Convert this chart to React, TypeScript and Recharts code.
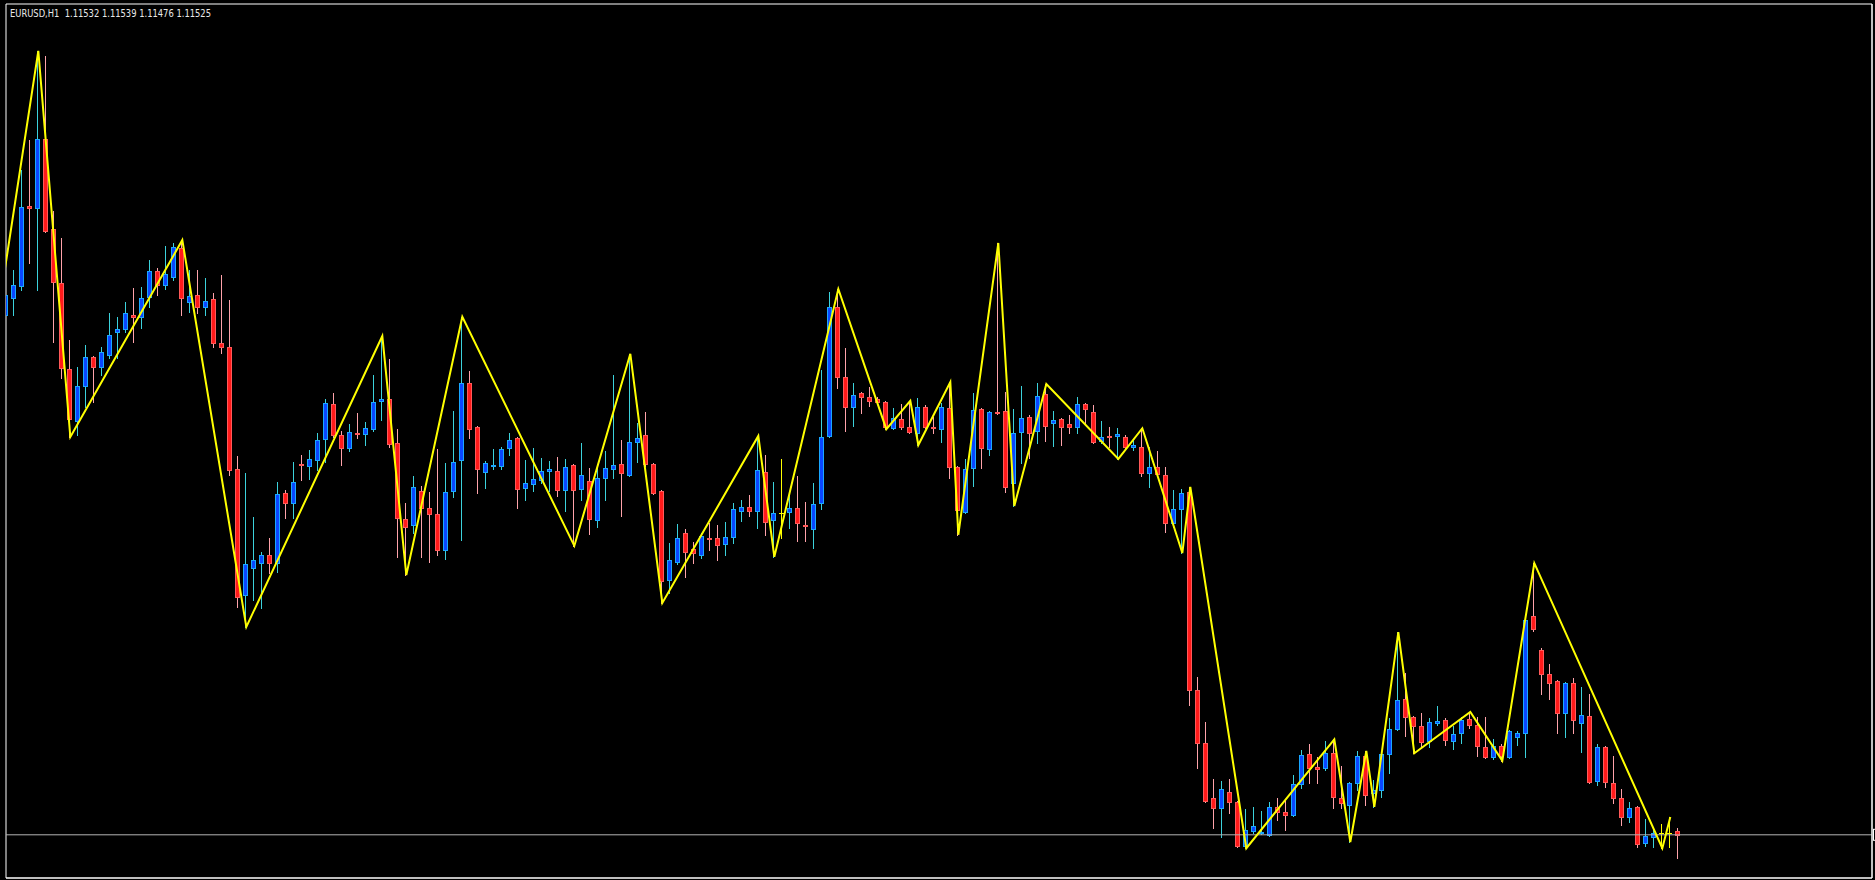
import React from "react";
import { Bar, ComposedChart, Line, ReferenceArea, ReferenceLine, XAxis, YAxis } from "recharts";

// EURUSD H1, 210 bars (oldest first)
const opens = [
  1.12608, 1.12643, 1.12668, 1.12835, 1.12831, 1.12975, 1.12787, 1.12675, 1.12495, 1.12387,
  1.12460, 1.12520, 1.12500, 1.12525, 1.12572, 1.12579, 1.12608, 1.12604, 1.12645, 1.12700,
  1.12670, 1.12687, 1.12747, 1.12635, 1.12650, 1.12625, 1.12641, 1.12550, 1.12541, 1.12287,
  1.12025, 1.12081, 1.12091, 1.12108, 1.12091, 1.12237, 1.12216, 1.12297, 1.12293, 1.12306,
  1.12350, 1.12422, 1.12358, 1.12331, 1.12362, 1.12360, 1.12370, 1.12429, 1.12433, 1.12341,
  1.12183, 1.12170, 1.12241, 1.12206, 1.12193, 1.12118, 1.12241, 1.12306, 1.12466, 1.12375,
  1.12281, 1.12293, 1.12293, 1.12331, 1.12352, 1.12247, 1.12256, 1.12264, 1.12283, 1.12283,
  1.12243, 1.12295, 1.12245, 1.12262, 1.12181, 1.12268, 1.12287, 1.12297, 1.12275, 1.12343,
  1.12358, 1.12297, 1.12241, 1.12056, 1.12093, 1.12154, 1.12120, 1.12108, 1.12143, 1.12143,
  1.12131, 1.12145, 1.12200, 1.12208, 1.12200, 1.12281, 1.12181, 1.12195, 1.12197, 1.12206,
  1.12170, 1.12162, 1.12216, 1.12356, 1.12625, 1.12479, 1.12416, 1.12445, 1.12437, 1.12433,
  1.12427, 1.12372, 1.12391, 1.12375, 1.12362, 1.12416, 1.12375, 1.12370, 1.12414, 1.12291,
  1.12197, 1.12289, 1.12412, 1.12329, 1.12406, 1.12408, 1.12258, 1.12364, 1.12395, 1.12366,
  1.12443, 1.12383, 1.12391, 1.12381, 1.12375, 1.12422, 1.12406, 1.12345, 1.12356, 1.12356,
  1.12354, 1.12333, 1.12333, 1.12279, 1.12291, 1.12275, 1.12175, 1.12204, 1.12239, 1.11827,
  1.11716, 1.11602, 1.11581, 1.11614, 1.11593, 1.11502, 1.11533, 1.11529, 1.11525, 1.11583,
  1.11572, 1.11566, 1.11631, 1.11693, 1.11666, 1.11664, 1.11695, 1.11602, 1.11587, 1.11633,
  1.11689, 1.11612, 1.11618, 1.11693, 1.11745, 1.11808, 1.11770, 1.11752, 1.11720, 1.11758,
  1.11764, 1.11720, 1.11737, 1.11766, 1.11754, 1.11708, 1.11687, 1.11710, 1.11687, 1.11729,
  1.11737, 1.11981, 1.11910, 1.11860, 1.11845, 1.11779, 1.11841, 1.11758, 1.11772, 1.11637,
  1.11708, 1.11633, 1.11602, 1.11562, 1.11583, 1.11508, 1.11520, 1.11529, 1.11529, 1.11532,
];

const highs = [
  1.12702, 1.12702, 1.12910, 1.12972, 1.13158, 1.13147, 1.12825, 1.12768, 1.12556, 1.12500,
  1.12545, 1.12522, 1.12541, 1.12612, 1.12604, 1.12635, 1.12664, 1.12666, 1.12722, 1.12706,
  1.12752, 1.12758, 1.12764, 1.12702, 1.12702, 1.12685, 1.12654, 1.12691, 1.12639, 1.12314,
  1.12279, 1.12187, 1.12114, 1.12143, 1.12260, 1.12243, 1.12302, 1.12316, 1.12327, 1.12362,
  1.12433, 1.12445, 1.12366, 1.12381, 1.12404, 1.12385, 1.12483, 1.12564, 1.12516, 1.12370,
  1.12216, 1.12272, 1.12252, 1.12239, 1.12329, 1.12300, 1.12408, 1.12604, 1.12491, 1.12377,
  1.12304, 1.12329, 1.12333, 1.12362, 1.12354, 1.12306, 1.12331, 1.12310, 1.12304, 1.12312,
  1.12308, 1.12297, 1.12341, 1.12289, 1.12291, 1.12325, 1.12483, 1.12347, 1.12527, 1.12383,
  1.12406, 1.12300, 1.12243, 1.12133, 1.12172, 1.12162, 1.12135, 1.12154, 1.12175, 1.12170,
  1.12177, 1.12216, 1.12222, 1.12233, 1.12356, 1.12316, 1.12260, 1.12308, 1.12237, 1.12272,
  1.12218, 1.12258, 1.12493, 1.12656, 1.12662, 1.12539, 1.12466, 1.12447, 1.12458, 1.12437,
  1.12429, 1.12414, 1.12422, 1.12429, 1.12435, 1.12420, 1.12395, 1.12425, 1.12468, 1.12293,
  1.12308, 1.12445, 1.12414, 1.12408, 1.12758, 1.12447, 1.12412, 1.12460, 1.12400, 1.12466,
  1.12464, 1.12408, 1.12393, 1.12400, 1.12437, 1.12425, 1.12420, 1.12387, 1.12375, 1.12372,
  1.12358, 1.12347, 1.12372, 1.12333, 1.12325, 1.12291, 1.12243, 1.12245, 1.12250, 1.11854,
  1.11760, 1.11641, 1.11637, 1.11641, 1.11595, 1.11579, 1.11583, 1.11575, 1.11593, 1.11602,
  1.11597, 1.11650, 1.11702, 1.11714, 1.11687, 1.11720, 1.11724, 1.11668, 1.11635, 1.11700,
  1.11700, 1.11639, 1.11695, 1.11768, 1.11947, 1.11862, 1.11772, 1.11779, 1.11768, 1.11793,
  1.11768, 1.11752, 1.11770, 1.11781, 1.11770, 1.11770, 1.11725, 1.11714, 1.11743, 1.11741,
  1.11977, 1.12091, 1.11914, 1.11881, 1.11848, 1.11843, 1.11852, 1.11833, 1.11818, 1.11714,
  1.11710, 1.11689, 1.11620, 1.11593, 1.11585, 1.11558, 1.11535, 1.11548, 1.11562, 1.11539,
];

const lows = [
  1.12591, 1.12608, 1.12660, 1.12716, 1.12660, 1.12781, 1.12552, 1.12477, 1.12354, 1.12358,
  1.12416, 1.12427, 1.12483, 1.12518, 1.12518, 1.12572, 1.12552, 1.12581, 1.12625, 1.12650,
  1.12662, 1.12681, 1.12608, 1.12614, 1.12612, 1.12608, 1.12541, 1.12529, 1.12275, 1.12000,
  1.11958, 1.12014, 1.11997, 1.12070, 1.12072, 1.12185, 1.12185, 1.12264, 1.12266, 1.12285,
  1.12302, 1.12354, 1.12295, 1.12325, 1.12352, 1.12337, 1.12366, 1.12389, 1.12333, 1.12104,
  1.12066, 1.12154, 1.12104, 1.12093, 1.12108, 1.12100, 1.12229, 1.12139, 1.12352, 1.12237,
  1.12247, 1.12287, 1.12287, 1.12316, 1.12206, 1.12222, 1.12241, 1.12258, 1.12241, 1.12231,
  1.12200, 1.12127, 1.12222, 1.12152, 1.12166, 1.12222, 1.12268, 1.12189, 1.12272, 1.12302,
  1.12293, 1.12235, 1.12008, 1.12029, 1.12090, 1.12062, 1.12091, 1.12102, 1.12118, 1.12097,
  1.12108, 1.12133, 1.12179, 1.12189, 1.12164, 1.12150, 1.12104, 1.12143, 1.12164, 1.12137,
  1.12137, 1.12122, 1.12204, 1.12354, 1.12456, 1.12366, 1.12377, 1.12404, 1.12418, 1.12425,
  1.12370, 1.12370, 1.12370, 1.12362, 1.12337, 1.12372, 1.12362, 1.12343, 1.12268, 1.12150,
  1.12195, 1.12252, 1.12289, 1.12316, 1.12402, 1.12239, 1.12210, 1.12300, 1.12310, 1.12341,
  1.12345, 1.12335, 1.12337, 1.12362, 1.12362, 1.12381, 1.12341, 1.12341, 1.12333, 1.12308,
  1.12331, 1.12327, 1.12272, 1.12250, 1.12272, 1.12156, 1.12166, 1.12112, 1.11795, 1.11664,
  1.11593, 1.11539, 1.11520, 1.11570, 1.11500, 1.11497, 1.11529, 1.11527, 1.11522, 1.11556,
  1.11535, 1.11564, 1.11622, 1.11633, 1.11633, 1.11660, 1.11581, 1.11581, 1.11510, 1.11618,
  1.11587, 1.11583, 1.11604, 1.11654, 1.11743, 1.11731, 1.11695, 1.11708, 1.11708, 1.11754,
  1.11712, 1.11704, 1.11716, 1.11747, 1.11689, 1.11685, 1.11683, 1.11679, 1.11685, 1.11712,
  1.11687, 1.11950, 1.11818, 1.11808, 1.11737, 1.11729, 1.11737, 1.11698, 1.11633, 1.11629,
  1.11625, 1.11591, 1.11545, 1.11552, 1.11500, 1.11502, 1.11500, 1.11497, 1.11500, 1.11476,
];

const closes = [
  1.12650, 1.12670, 1.12833, 1.12831, 1.12975, 1.12783, 1.12677, 1.12497, 1.12391, 1.12460,
  1.12520, 1.12500, 1.12531, 1.12566, 1.12579, 1.12612, 1.12604, 1.12643, 1.12700, 1.12670,
  1.12693, 1.12750, 1.12643, 1.12647, 1.12625, 1.12637, 1.12550, 1.12541, 1.12285, 1.12020,
  1.12089, 1.12097, 1.12108, 1.12091, 1.12235, 1.12216, 1.12260, 1.12295, 1.12308, 1.12347,
  1.12425, 1.12358, 1.12331, 1.12364, 1.12360, 1.12372, 1.12427, 1.12433, 1.12339, 1.12185,
  1.12166, 1.12250, 1.12206, 1.12193, 1.12118, 1.12239, 1.12302, 1.12466, 1.12370, 1.12287,
  1.12300, 1.12295, 1.12329, 1.12347, 1.12245, 1.12258, 1.12266, 1.12283, 1.12287, 1.12243,
  1.12291, 1.12243, 1.12275, 1.12183, 1.12268, 1.12289, 1.12295, 1.12279, 1.12343, 1.12352,
  1.12297, 1.12237, 1.12054, 1.12097, 1.12143, 1.12114, 1.12112, 1.12147, 1.12141, 1.12129,
  1.12145, 1.12204, 1.12208, 1.12200, 1.12285, 1.12177, 1.12195, 1.12195, 1.12206, 1.12175,
  1.12168, 1.12214, 1.12354, 1.12625, 1.12479, 1.12416, 1.12441, 1.12437, 1.12429, 1.12427,
  1.12375, 1.12393, 1.12375, 1.12364, 1.12416, 1.12375, 1.12372, 1.12416, 1.12291, 1.12202,
  1.12287, 1.12410, 1.12331, 1.12406, 1.12404, 1.12250, 1.12362, 1.12393, 1.12362, 1.12439,
  1.12377, 1.12389, 1.12375, 1.12375, 1.12422, 1.12412, 1.12343, 1.12354, 1.12354, 1.12360,
  1.12333, 1.12337, 1.12279, 1.12291, 1.12277, 1.12175, 1.12204, 1.12237, 1.11827, 1.11716,
  1.11595, 1.11581, 1.11620, 1.11593, 1.11502, 1.11535, 1.11543, 1.11531, 1.11583, 1.11572,
  1.11566, 1.11631, 1.11691, 1.11664, 1.11662, 1.11695, 1.11604, 1.11591, 1.11633, 1.11689,
  1.11608, 1.11618, 1.11693, 1.11745, 1.11806, 1.11770, 1.11752, 1.11718, 1.11760, 1.11762,
  1.11722, 1.11735, 1.11764, 1.11754, 1.11710, 1.11687, 1.11710, 1.11689, 1.11741, 1.11737,
  1.11972, 1.11954, 1.11860, 1.11841, 1.11779, 1.11841, 1.11764, 1.11775, 1.11635, 1.11708,
  1.11635, 1.11602, 1.11562, 1.11581, 1.11506, 1.11522, 1.11529, 1.11529, 1.11529, 1.11525,
];

// ZigZag pivots: bar index and price (first one lies left of the window)
const zigzagBars = [
  -1, 4, 8, 22, 30, 47, 50, 57, 71, 78, 82, 94, 96, 104, 110, 113, 114, 118, 119,
  124, 126, 130, 139, 142, 147, 148, 155, 166, 168, 170, 171, 174, 176, 183, 187, 191, 207, 208,
];
const zigzagPrices = [
  1.12614, 1.13158, 1.12354, 1.12764, 1.11958, 1.12564, 1.12066, 1.12604, 1.12127, 1.12527,
  1.12008, 1.12356, 1.12104, 1.12662, 1.12370, 1.12429, 1.12337, 1.12468, 1.12150, 1.12758,
  1.12210, 1.12464, 1.12308, 1.12372, 1.12112, 1.12250, 1.11497, 1.11724, 1.11510, 1.11700,
  1.11583, 1.11947, 1.11695, 1.11781, 1.11679, 1.12091, 1.11497, 1.11562,
];

// price scale ticks (labels are cut off at the window edge) and time ticks every 8 bars
const priceTicks = [
  1.1144, 1.1151, 1.1158, 1.1165, 1.1172, 1.1179, 1.1186, 1.1193, 1.12, 1.1207, 1.1214,
  1.1221, 1.1228, 1.1235, 1.1242, 1.1249, 1.1256, 1.1263, 1.127, 1.1277, 1.1284, 1.1291,
  1.1298, 1.1305, 1.1312, 1.1319,
];
const timeTicks = [
  0, 8, 16, 24, 32, 40, 48, 56, 64, 72, 80, 88, 96, 104, 112, 120, 128, 136, 144, 152,
  160, 168, 176, 184, 192, 200, 208, 216, 224, 232,
];

const symbol = "EURUSD,H1";
const xDomain: [number, number] = [-0.04, 233.21];
const yDomain: [number, number] = [1.11435, 1.132558];

const BULL_BODY = "#0A46FF";
const BULL_EDGE = "#1AA7FF";
const BULL_WICK = "#3CD2DC";
const BEAR_BODY = "#FF1A1A";
const BEAR_EDGE = "#FF5A5A";
const BEAR_WICK = "#FFA3AA";
const DOJI = "#FFFF00";

const bars = opens.map((o, i) => ({
  i,
  open: o,
  high: highs[i],
  low: lows[i],
  close: closes[i],
  range: [lows[i], highs[i]],
}));

const zigzag = zigzagBars.map((b, k) => ({ i: b, zz: zigzagPrices[k] }));

const last = bars[bars.length - 1];
const header = `${symbol}  ${[last.open, last.high, last.low, last.close].map((v) => v.toFixed(5)).join(" ")}`;

function Candle(props: any) {
  const { x, y, width, height, payload } = props;
  if (!payload || !isFinite(y) || !isFinite(height)) return null;
  const top = Math.min(y, y + height);
  const h = Math.abs(height);
  const { open, close, high, low } = payload;
  const k = h / (high - low);
  const py = (v: number) => Math.round(top + (high - v) * k);
  const c = Math.floor(x + width / 2);
  const bull = close > open;
  const doji = close === open;
  const wick = doji ? DOJI : bull ? BULL_WICK : BEAR_WICK;
  const edge = doji ? DOJI : bull ? BULL_EDGE : BEAR_EDGE;
  const yO = py(open);
  const yC = py(close);
  const bTop = Math.min(yO, yC);
  const bBot = Math.max(yO, yC);
  return (
    <g>
      <line x1={c + 0.5} x2={c + 0.5} y1={py(high)} y2={py(low) + 1} stroke={wick} strokeWidth={1} />
      {doji ? (
        <line x1={c - 2} x2={c + 3} y1={bTop + 0.5} y2={bTop + 0.5} stroke={edge} strokeWidth={1} />
      ) : (
        <rect
          x={c - 1.5}
          y={bTop + 0.5}
          width={4}
          height={Math.max(bBot - bTop, 1)}
          fill={bull ? BULL_BODY : BEAR_BODY}
          stroke={edge}
          strokeWidth={1}
        />
      )}
    </g>
  );
}

function PriceBox(props: any) {
  const vb = props.viewBox;
  if (!vb) return null;
  return <rect x={vb.x + vb.width + 1.5} y={vb.y - 5.5} width={4} height={11} fill="#000" stroke="#fff" />;
}

export default function App() {
  return (
    <div style={{ position: "fixed", left: 0, top: 0, width: 1875, height: 880, background: "#000" }}>
      <ComposedChart
        width={1875}
        height={880}
        data={bars}
        margin={{ top: 4, right: 0, bottom: 0, left: 6 }}
      >
        <XAxis
          dataKey="i"
          type="number"
          domain={xDomain}
          allowDataOverflow
          ticks={timeTicks}
          tick={false}
          tickSize={3}
          height={2}
          axisLine={{ stroke: "#fff" }}
          tickLine={{ stroke: "#fff" }}
        />
        <YAxis
          orientation="right"
          type="number"
          domain={yDomain}
          allowDataOverflow
          ticks={priceTicks}
          tick={false}
          tickSize={3}
          width={3}
          axisLine={{ stroke: "#fff" }}
          tickLine={{ stroke: "#fff" }}
        />
        <ReferenceLine y={last.close} stroke="#B4B4B4" strokeWidth={1} label={<PriceBox />} />
        <Bar dataKey="range" barSize={5} shape={<Candle />} isAnimationActive={false} />
        <Line
          data={zigzag}
          dataKey="zz"
          type="linear"
          stroke="#FFFF00"
          strokeWidth={2}
          dot={false}
          activeDot={false}
          isAnimationActive={false}
        />
        <ReferenceArea
          x1={xDomain[0]}
          x2={xDomain[1]}
          y1={yDomain[0]}
          y2={yDomain[1]}
          fill="none"
          stroke="#fff"
          strokeWidth={1}
          ifOverflow="visible"
        />
      </ComposedChart>
      <svg width={320} height={24} style={{ position: "absolute", left: 0, top: 0 }}>
        <text
          x={10}
          y={17}
          fill="#E8E8E8"
          fontSize={11}
          fontFamily="'DejaVu Sans', sans-serif"
          textLength={201}
          lengthAdjust="spacingAndGlyphs"
          style={{ whiteSpace: "pre" }}
        >
          {header}
        </text>
      </svg>
    </div>
  );
}
